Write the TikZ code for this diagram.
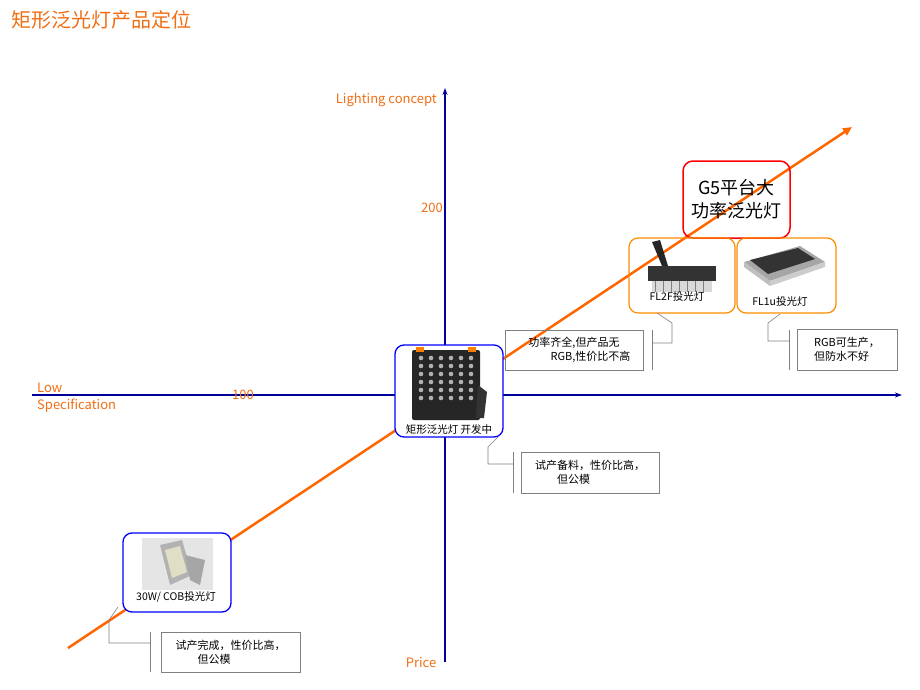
\documentclass[tikz,border=0pt]{standalone}
\usepackage{fontspec}
\setmainfont{Noto Sans CJK SC}
\usetikzlibrary{arrows.meta}
\definecolor{org}{RGB}{255,102,0}
\definecolor{navy}{RGB}{0,0,153}
\definecolor{lab}{RGB}{240,110,20}
\begin{document}
\begin{tikzpicture}[x=1pt,y=-1pt,
  axis/.style={navy,line width=1.2pt,-{Stealth[length=7pt,width=5pt]}},
  lbl/.style={text=lab,font=\fontsize{13}{15}\selectfont,inner sep=0},
  bbox/.style={draw=blue,line width=1.3pt,rounded corners=9pt,fill=white},
  obox/.style={draw=orange!90!yellow,line width=1.2pt,rounded corners=9pt},
  lampcap/.style={font=\fontsize{10.5}{12}\selectfont,inner sep=0},
  note/.style={draw=gray,line width=0.6pt,font=\fontsize{11}{14}\selectfont,align=center,inner sep=0},
  lead/.style={gray,line width=0.6pt}]
\useasboundingbox (0,0) rectangle (920,690);
\node[anchor=west,text=lab,font=\fontsize{20}{24}\selectfont] (title) at (8,20) {矩形泛光灯产品定位};
% axes
\coordinate (vb) at (445,662); \coordinate (vt) at (445,88);
\coordinate (hl) at (32,395); \coordinate (hr) at (902,395);
\draw[axis] (vb) -- (vt);
\draw[axis] (hl) -- (hr);
\node[lbl,anchor=east] (lc) at (437,100) {Lighting concept};
\node[lbl] (n200) at (432,208) {200};
\node[lbl,anchor=west] (low) at (37,388) {Low};
\node[lbl,anchor=west] (spec) at (37,406) {Specification};
\node[lbl] (n100) at (243,395) {100};
\node[lbl] (price) at (421,663) {Price};
% trend line
\coordinate (ts) at (68,648); \coordinate (te) at (852,127);
\draw[org,line width=2.5pt,-{Triangle[length=9pt,width=8pt]}] (ts) -- (te);
% red box
\node[draw=red,line width=1.5pt,rounded corners=10pt,minimum width=107pt,minimum height=77pt,align=center,font=\fontsize{18}{23}\selectfont] (g5) at (736.5,199.5) {G5平台大\\功率泛光灯};
% orange boxes
\draw[obox] (629,238) rectangle (735,313);
\draw[obox] (737,238) rectangle (836,313);
% FL2F lamp
\fill[black!85] (652,242) -- (660,240) -- (668,266) -- (662,266) -- cycle;
\fill[black!80] (648,266) rectangle (716,281);
\fill[black!15] (652,281) rectangle (712,292);
\foreach \i in {0,...,6} \draw[gray] (655+\i*8,281) -- (655+\i*8,292);
\node[lampcap] (fl2f) at (677,297) {FL2F投光灯};
% FL1u lamp
\fill[gray!70] (744,262) -- (800,246) -- (825,262) -- (770,281) -- cycle;
\fill[black!80] (750,260) -- (798,248) -- (815,259) -- (768,274) -- cycle;
\fill[gray!50] (744,262) -- (770,281) -- (770,286) -- (744,267) -- cycle;
\fill[gray!40] (770,281) -- (825,262) -- (825,267) -- (770,286) -- cycle;
\node[lampcap] (fl1u) at (780,302) {FL1u投光灯};
% blue boxes
\draw[bbox] (395,345) rectangle (503,437);
\fill[black!85,rounded corners=2pt] (412,350) rectangle (480,420);
\foreach \r in {0,...,5} \foreach \c in {0,...,5} \fill[gray!60] (421+\c*10,358+\r*8) circle (2.3pt);
\fill[black!80] (478,385) -- (487,392) -- (484,418) -- (476,418) -- cycle;
\fill[orange] (416,347) rectangle (424,352); \fill[orange] (468,347) rectangle (476,352);
\node[lampcap] (mid) at (449,430) {矩形泛光灯 开发中};
\draw[bbox] (123,533) rectangle (231,612);
\fill[gray!20] (142,538) rectangle (213,590);
\fill[gray!60] (160,545) -- (182,540) -- (192,575) -- (170,585) -- cycle;
\fill[yellow!30!gray!40] (165,550) -- (180,546) -- (187,572) -- (172,578) -- cycle;
\fill[gray!70] (185,555) -- (205,560) -- (200,585) -- (190,580) -- cycle;
\node[lampcap] (cob) at (176,597) {30W/ COB投光灯};
% notes
\node[note,minimum width=138pt,minimum height=40pt] (n1) at (574,350) {功率齐全,但产品无\\\hspace*{3em}RGB,性价比不高};
\draw[lead] (657,313) -- (672,323) -- (672,343) -- (652,343);
\draw[lead] (652,330) -- (652,370);
\node[note,minimum width=100pt,minimum height=41pt,align=left] (n2) at (847,349.5) {RGB可生产，\\但防水不好};
\draw[lead] (780,314) -- (768,323) -- (768,341) -- (789,341);
\draw[lead] (789,330) -- (789,370);
\node[note,minimum width=138pt,minimum height=41pt,align=left] (n3) at (590,472.5) {试产备料，性价比高，\\\hspace*{2em}但公模};
\draw[lead] (498,437) -- (488,447) -- (488,464) -- (513,464);
\draw[lead] (513,452) -- (513,493);
\node[note,minimum width=139pt,minimum height=40pt,align=left] (n4) at (230.5,652) {试产完成，性价比高，\\\hspace*{2em}但公模};
\draw[lead] (118,607) -- (109,620) -- (109,643) -- (150,643);
\draw[lead] (150,632) -- (150,672);
\end{tikzpicture}
\end{document}
